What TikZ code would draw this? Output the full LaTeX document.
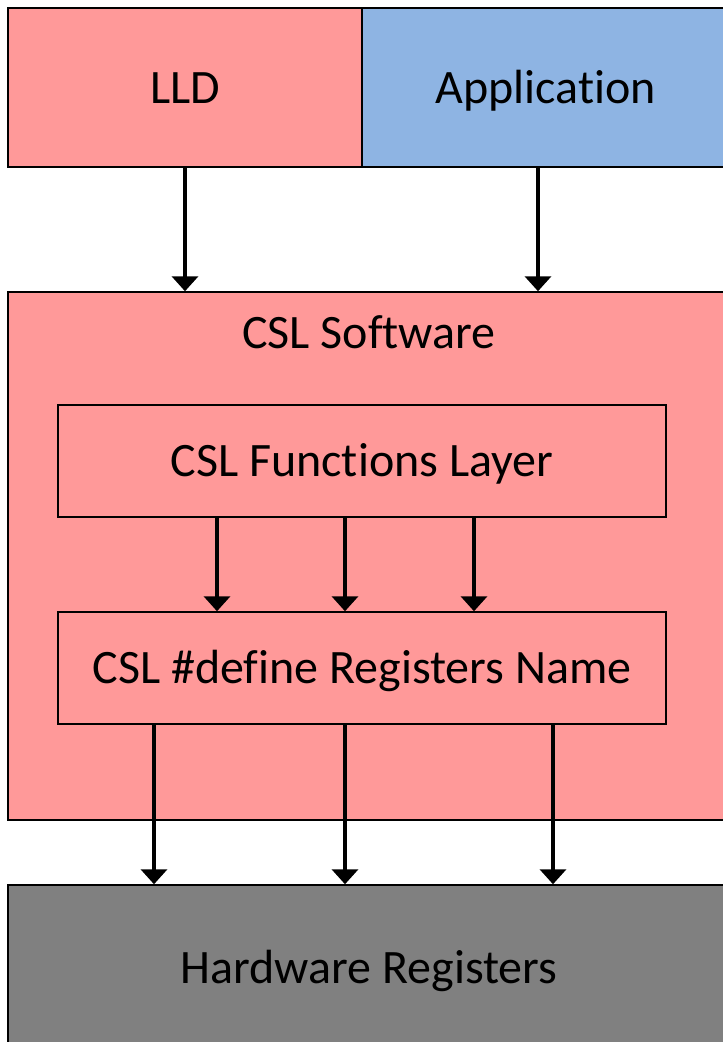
\documentclass[tikz,border=0pt]{standalone}
\usepackage{fontspec}
\setmainfont{Carlito}[Ligatures=NoCommon]
\usetikzlibrary{arrows.meta,positioning}

\definecolor{layerred}{HTML}{FF9999}
\definecolor{layerblue}{HTML}{8EB4E3}
\definecolor{layergray}{HTML}{808080}

\tikzset{
  layer/.style={draw=black, line width=1.5pt, rectangle, inner sep=0pt,
    font=\fontsize{48}{58}\selectfont, text height=31pt, text depth=0pt},
  callarrow/.style={line width=3.8pt, -{Triangle[width=26pt,length=15pt]}}
}

\begin{document}
\begin{tikzpicture}[x=1pt,y=-1pt]
      \clip (0,0) rectangle (723,1042);
      % top row: driver and user code
      \node[layer, fill=layerred, minimum width=354pt, minimum height=159pt] (lld) at (185,87.5) {LLD};
      \node[layer, fill=layerblue, minimum width=367pt, minimum height=159pt] (app) at (545.5,87.5) {Application};
      % CSL block with its two inner layers
      \node[layer, fill=layerred, minimum width=722pt, minimum height=528pt] (csl) at (369,556) {};
      \node[font=\fontsize{48}{58}\selectfont, text height=31pt, text depth=0pt] (csltitle) at (369,333) {CSL Software};
      \node[layer, fill=layerred, minimum width=608pt, minimum height=112pt] (funcs) at (362,461) {CSL Functions Layer};
      \node[layer, fill=layerred, minimum width=608pt, minimum height=112pt] (defs) at (362,668) {CSL \#define Registers Name};
      % hardware at the bottom
      \node[layer, fill=layergray, minimum width=722pt, minimum height=165pt] (hw) at (369,967.5) {Hardware Registers};
      % calls between layers
      \draw[callarrow] (lld.south) -- (lld.south |- csl.north);
      \draw[callarrow] (538,0 |- app.south) -- (538,0 |- csl.north);
      \foreach \x in {217,345,474}
        \draw[callarrow] (\x,0 |- funcs.south) -- (\x,0 |- defs.north);
      \foreach \x in {154,345,553}
        \draw[callarrow] (\x,0 |- defs.south) -- (\x,0 |- hw.north);
\end{tikzpicture}
\end{document}
